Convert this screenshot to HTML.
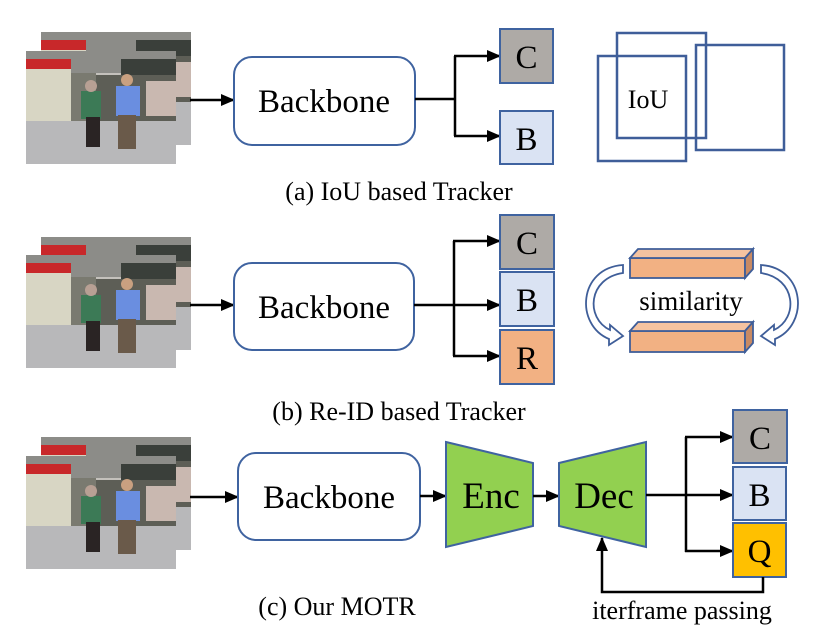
<!DOCTYPE html>
<html><head><meta charset="utf-8"><style>body{margin:0;background:#fff}svg{display:block}text{font-family:"Liberation Serif",serif;fill:#000}</style></head><body>
<svg width="819" height="633" viewBox="0 0 819 633" xmlns="http://www.w3.org/2000/svg">
<defs>
<marker id="ah" markerWidth="14" markerHeight="12" refX="13" refY="6" orient="auto" markerUnits="userSpaceOnUse"><path d="M0,0 L14,6 L0,12 z" fill="#000"/></marker>
<linearGradient id="fl" x1="0" y1="0" x2="0" y2="1"><stop offset="0" stop-color="#c8c4bc"/><stop offset="1" stop-color="#b4b6ba"/></linearGradient>
<g id="ph">
<rect x="0" y="0" width="150" height="113" fill="url(#fl)"/>
<rect x="0" y="0" width="150" height="22" fill="#8c8c88"/>
<rect x="0" y="8" width="45" height="10" fill="#c8282a"/>
<rect x="95" y="8" width="55" height="18" fill="#3a3f3a"/>
<rect x="0" y="18" width="45" height="52" fill="#d8d6c4"/>
<rect x="45" y="22" width="25" height="50" fill="#7a7a70"/>
<rect x="70" y="24" width="80" height="50" fill="#5d5e56"/>
<rect x="120" y="30" width="30" height="35" fill="#c9b8b0"/>
<rect x="0" y="70" width="150" height="43" fill="#b8b8ba"/>
<rect x="55" y="40" width="20" height="28" fill="#3c7a56"/>
<rect x="60" y="66" width="14" height="30" fill="#2a2424"/>
<circle cx="65" cy="35" r="6" fill="#b8a094"/>
<rect x="90" y="35" width="24" height="30" fill="#6a8ee0"/>
<rect x="92" y="64" width="18" height="34" fill="#6a5a4a"/>
<circle cx="101" cy="29" r="6" fill="#c9a080"/>
</g>
</defs>

<!-- (a) -->
<use href="#ph" x="41" y="32"/>
<use href="#ph" x="26" y="51"/>
<line x1="190" y1="100" x2="234" y2="100" stroke="#000" stroke-width="2.5" marker-end="url(#ah)"/>
<rect x="234" y="57" width="181" height="88" rx="18" fill="#fff" stroke="#3f63a0" stroke-width="2"/>
<text x="324" y="112" font-size="33" text-anchor="middle">Backbone</text>
<path d="M415,99 H455 M455,56 V136" stroke="#000" stroke-width="2.5" fill="none"/>
<line x1="454" y1="56" x2="500" y2="56" stroke="#000" stroke-width="2.5" marker-end="url(#ah)"/>
<line x1="454" y1="136" x2="500" y2="136" stroke="#000" stroke-width="2.5" marker-end="url(#ah)"/>
<rect x="500" y="29" width="53" height="54" fill="#aeaaa6" stroke="#3f63a0" stroke-width="2"/>
<text x="526.5" y="68" font-size="33" text-anchor="middle">C</text>
<rect x="500" y="111" width="53" height="53" fill="#dae3f3" stroke="#3f63a0" stroke-width="2"/>
<text x="526.5" y="150" font-size="33" text-anchor="middle">B</text>
<g fill="none" stroke="#3f5e99" stroke-width="2.5">
<rect x="617" y="33" width="89" height="105"/>
<rect x="598" y="56" width="88" height="105"/>
<rect x="696" y="45" width="88" height="105"/>
</g>
<text x="648" y="108" font-size="26" text-anchor="middle">IoU</text>
<text x="399" y="200" font-size="26" text-anchor="middle">(a) IoU based Tracker</text>

<!-- (b) -->
<use href="#ph" x="41" y="237"/>
<use href="#ph" x="26" y="255"/>
<line x1="190" y1="305" x2="234" y2="305" stroke="#000" stroke-width="2.5" marker-end="url(#ah)"/>
<rect x="234" y="263" width="180" height="87" rx="18" fill="#fff" stroke="#3f63a0" stroke-width="2"/>
<text x="324" y="318" font-size="33" text-anchor="middle">Backbone</text>
<path d="M414,305 H454 M454,241 V356" stroke="#000" stroke-width="2.5" fill="none"/>
<line x1="453" y1="241" x2="500" y2="241" stroke="#000" stroke-width="2.5" marker-end="url(#ah)"/>
<line x1="453" y1="305" x2="500" y2="305" stroke="#000" stroke-width="2.5" marker-end="url(#ah)"/>
<line x1="453" y1="356" x2="500" y2="356" stroke="#000" stroke-width="2.5" marker-end="url(#ah)"/>
<rect x="500" y="215" width="54" height="54" fill="#aeaaa6" stroke="#3f63a0" stroke-width="2"/>
<text x="527" y="254" font-size="33" text-anchor="middle">C</text>
<rect x="500" y="272" width="54" height="54" fill="#dae3f3" stroke="#3f63a0" stroke-width="2"/>
<text x="527" y="311" font-size="33" text-anchor="middle">B</text>
<rect x="500" y="330" width="54" height="54" fill="#f2b183" stroke="#3f63a0" stroke-width="2"/>
<text x="527" y="369" font-size="33" text-anchor="middle">R</text>
<g stroke="#3f5e99" stroke-width="1.8">
<rect x="630" y="258" width="115" height="20" fill="#f2b183"/>
<path d="M630,258 L638,249 H753 L745,258 Z" fill="#f5c3a0"/>
<path d="M745,258 L753,249 V269 L745,278 Z" fill="#c88a64"/>
<rect x="630" y="331" width="115" height="21" fill="#f2b183"/>
<path d="M630,331 L638,322 H753 L745,331 Z" fill="#f5c3a0"/>
<path d="M745,331 L753,322 V343 L745,352 Z" fill="#c88a64"/>
</g>
<g fill="#fff" stroke="#3f5e99" stroke-width="1.8">
<path d="M623,273 C588,278 585,318 610,330 L610,325 L623,336 L609,345 L609,339 C575,325 578,268 623,265 Z"/>
<path d="M761,273 C796,278 799,318 774,330 L774,325 L761,336 L775,345 L775,339 C809,325 806,268 761,265 Z"/>
</g>
<text x="691" y="310" font-size="27" text-anchor="middle">similarity</text>
<text x="399" y="420" font-size="26" text-anchor="middle">(b) Re-ID based Tracker</text>

<!-- (c) -->
<use href="#ph" x="41" y="437"/>
<use href="#ph" x="26" y="456"/>
<line x1="190" y1="497" x2="238" y2="497" stroke="#000" stroke-width="2.5" marker-end="url(#ah)"/>
<rect x="238" y="453" width="182" height="87" rx="18" fill="#fff" stroke="#3f63a0" stroke-width="2"/>
<text x="329" y="508" font-size="33" text-anchor="middle">Backbone</text>
<line x1="420" y1="496" x2="446" y2="496" stroke="#000" stroke-width="2.5" marker-end="url(#ah)"/>
<path d="M446,442 L533,463 V526 L446,547 Z" fill="#92d050" stroke="#3f63a0" stroke-width="2"/>
<text x="491" y="508" font-size="37" text-anchor="middle">Enc</text>
<line x1="533" y1="496" x2="559" y2="496" stroke="#000" stroke-width="2.5" marker-end="url(#ah)"/>
<path d="M559,463 L646,442 V547 L559,526 Z" fill="#92d050" stroke="#3f63a0" stroke-width="2"/>
<text x="604" y="508" font-size="37" text-anchor="middle">Dec</text>
<path d="M646,495 H686 M686,437 V552" stroke="#000" stroke-width="2.5" fill="none"/>
<line x1="685" y1="437" x2="733" y2="437" stroke="#000" stroke-width="2.5" marker-end="url(#ah)"/>
<line x1="685" y1="495" x2="733" y2="495" stroke="#000" stroke-width="2.5" marker-end="url(#ah)"/>
<line x1="685" y1="551" x2="733" y2="551" stroke="#000" stroke-width="2.5" marker-end="url(#ah)"/>
<rect x="733" y="410" width="54" height="53" fill="#aeaaa6" stroke="#3f63a0" stroke-width="2"/>
<text x="760" y="449" font-size="33" text-anchor="middle">C</text>
<rect x="733" y="467" width="53" height="53" fill="#dae3f3" stroke="#3f63a0" stroke-width="2"/>
<text x="759.5" y="506" font-size="33" text-anchor="middle">B</text>
<rect x="733" y="523" width="53" height="54" fill="#ffc000" stroke="#3f63a0" stroke-width="2"/>
<text x="759.5" y="562" font-size="33" text-anchor="middle">Q</text>
<path d="M763,577 V592 H602 V538" stroke="#000" stroke-width="2.5" fill="none" marker-end="url(#ah)"/>
<text x="682" y="619" font-size="26" text-anchor="middle">iterframe passing</text>
<text x="337" y="615" font-size="26" text-anchor="middle">(c) Our MOTR</text>
</svg>
</body></html>
